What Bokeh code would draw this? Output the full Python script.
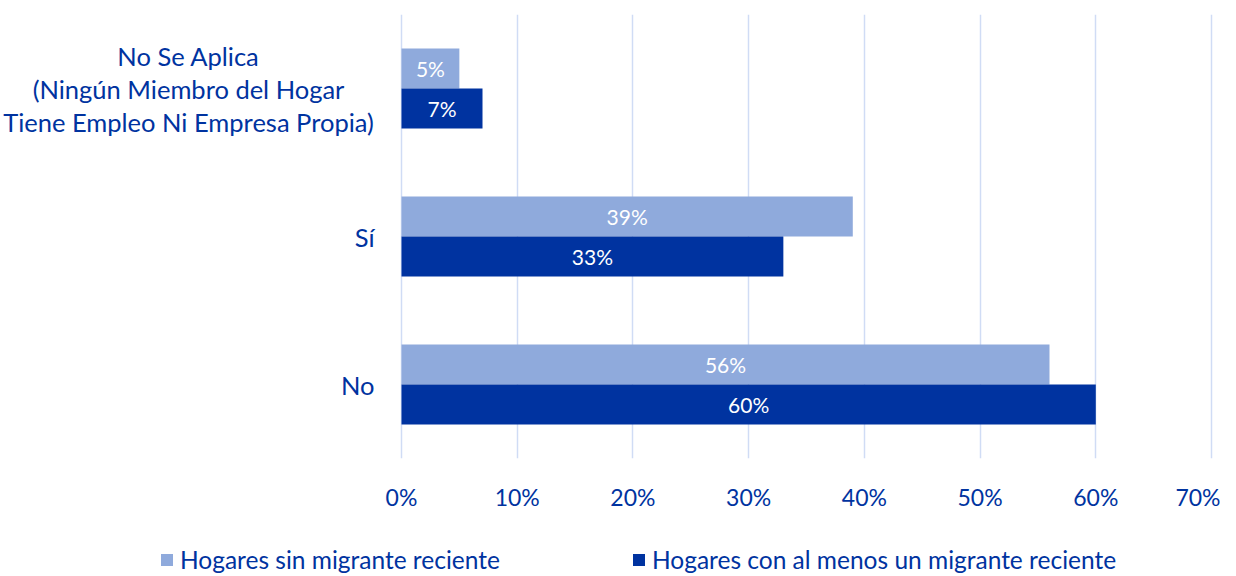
from bokeh.plotting import figure
from bokeh.models import (ColumnDataSource, FactorRange, Range1d, Legend, LegendItem,
                          NumeralTickFormatter, FixedTicker)
from bokeh.layouts import column
from bokeh.transform import dodge
from bokeh.core.properties import value
from bokeh.embed import file_html
from bokeh.resources import INLINE

# ---- data ----
categories = ["No", "Sí", "No Se Aplica"]
category_labels = ["No", "Sí", "No Se Aplica\n(Ningún Miembro del Hogar\nTiene Empleo Ni Empresa Propia)"]
series_names = ["Hogares sin migrante reciente", "Hogares con al menos un migrante reciente"]
sin_migrante = [56, 39, 5]
con_migrante = [60, 33, 7]
x_ticks = [0, 10, 20, 30, 40, 50, 60, 70]

FONT = "Lato"
TXT = "#0033A0"
LIGHT = "#8FAADC"
DARK = "#0033A0"

src = ColumnDataSource(dict(
    cat=categories,
    sin=sin_migrante,
    con=con_migrante,
    sin_mid=[v / 2 for v in sin_migrante],
    con_mid=[v / 2 for v in con_migrante],
    sin_lab=[f"{v}%" for v in sin_migrante],
    con_lab=[f"{v}%" for v in con_migrante],
))

W = 1220
LEFT_PX, RIGHT_PX = 401, 9          # room for category labels / last tick label
plot_px = W - LEFT_PX - RIGHT_PX
xmax = x_ticks[-1]
ppu = plot_px / xmax
p = figure(width=W, height=530, output_backend="svg", toolbar_location=None,
           y_range=FactorRange(factors=categories, range_padding=0),
           x_range=Range1d(-LEFT_PX / ppu, xmax + RIGHT_PX / ppu),
           min_border_left=0, min_border_right=0, min_border_top=14, min_border_bottom=72)

p.outline_line_color = None
p.background_fill_color = "white"
p.border_fill_color = "white"

bh = 0.27
r1 = p.hbar(y=dodge("cat", bh / 2, range=p.y_range), right="sin", left=0, height=bh,
            source=src, fill_color=LIGHT, line_color=None)
r2 = p.hbar(y=dodge("cat", -bh / 2, range=p.y_range), right="con", left=0, height=bh,
            source=src, fill_color=DARK, line_color=None)

p.text(x="sin_mid", y=dodge("cat", bh / 2, range=p.y_range), text="sin_lab", source=src,
       text_align="center", text_baseline="middle", text_color="white",
       text_font=value(FONT), text_font_size="21px")
p.text(x="con_mid", y=dodge("cat", -bh / 2, range=p.y_range), text="con_lab", source=src,
       text_align="center", text_baseline="middle", text_color="white",
       text_font=value(FONT), text_font_size="21px")

# category labels
single = ColumnDataSource(dict(x=[0, 0], y=categories[:2], t=category_labels[:2]))
p.text(x="x", y="y", text="t", source=single, x_offset=-27, text_align="right",
       text_baseline="middle", text_color=TXT, text_font=value(FONT), text_font_size="25.5px")
multi = ColumnDataSource(dict(x=[0], y=categories[2:], t=category_labels[2:]))
p.text(x="x", y="y", text="t", source=multi, x_offset=-213, text_align="center",
       text_baseline="middle", text_color=TXT, text_font=value(FONT), text_font_size="25.5px",
       text_line_height=1.1)

p.yaxis.visible = False
p.ygrid.grid_line_color = None
p.xgrid.grid_line_color = "#D0DCF5"
p.xgrid.grid_line_width = 1.5
p.xaxis.ticker = FixedTicker(ticks=x_ticks)
p.xaxis.formatter = NumeralTickFormatter(format="0")
p.xaxis.major_label_overrides = {t: f"{t}%" for t in x_ticks}
p.xaxis.axis_line_color = None
p.xaxis.major_tick_line_color = None
p.xaxis.minor_tick_line_color = None
p.xaxis.major_tick_out = 0
p.xaxis.major_label_standoff = 24
p.xaxis.major_label_text_font = FONT
p.xaxis.major_label_text_font_size = "23px"
p.xaxis.major_label_text_color = TXT

# legend strip
lg = figure(width=W, height=44, output_backend="svg", toolbar_location=None,
            x_range=Range1d(0, 1), y_range=Range1d(0, 1),
            min_border_left=0, min_border_right=0, min_border_top=0, min_border_bottom=0)
lg.outline_line_color = None
lg.axis.visible = False
lg.grid.visible = False
# zero-width placeholder bars that only carry the legend swatch styles
dummy = ColumnDataSource(dict(y=[0.0], right=[0.0]))
d1 = lg.hbar(y="y", right="right", left=0, height=0.0, source=dummy, fill_color=LIGHT, line_color=None)
d2 = lg.hbar(y="y", right="right", left=0, height=0.0, source=dummy, fill_color=DARK, line_color=None)
for item, r, xloc in [(series_names[0], d1, 159), (series_names[1], d2, 631)]:
    leg = Legend(items=[LegendItem(label=item, renderers=[r])], location=(xloc, 0),
                 orientation="horizontal", padding=0, margin=0, border_line_color=None,
                 background_fill_alpha=0, glyph_width=15, glyph_height=15, label_standoff=6,
                 label_text_font=FONT, label_text_font_size="24.5px", label_text_color=TXT,
                 label_height=22)
    lg.add_layout(leg, "center")

layout = column(p, lg, spacing=0)
open("out.html", "w").write(file_html(layout, INLINE))
